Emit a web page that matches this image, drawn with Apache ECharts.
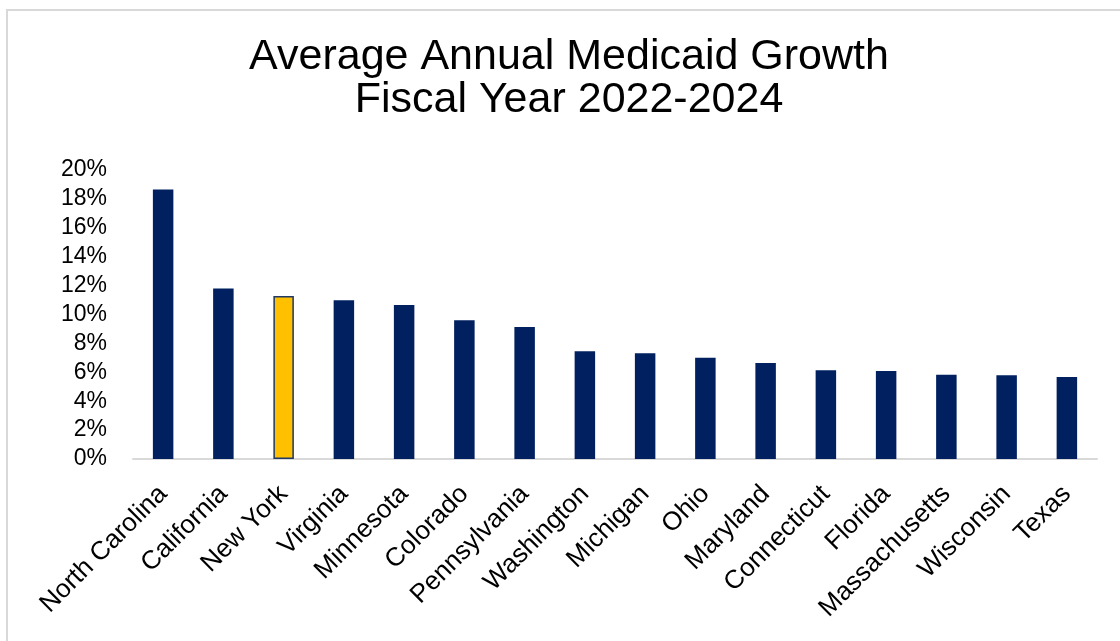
<!DOCTYPE html>
<html>
<head>
<meta charset="utf-8">
<script src="https://cdn.jsdelivr.net/npm/echarts@6/dist/echarts.min.js"></script>
<style>
html,body{margin:0;padding:0;background:#fff;}
#chart{width:1120px;height:641px;}
</style>
</head>
<body>
<div id="chart"></div>
<script>
const titleLines = ['Average Annual Medicaid Growth', 'Fiscal Year 2022-2024'];
const states = ['North Carolina','California','New York','Virginia','Minnesota','Colorado','Pennsylvania','Washington','Michigan','Ohio','Maryland','Connecticut','Florida','Massachusetts','Wisconsin','Texas'];
const growth = [18.65, 11.8, 11.28, 10.98, 10.66, 9.6, 9.13, 7.45, 7.31, 7.01, 6.64, 6.14, 6.09, 5.83, 5.79, 5.67];
const highlight = 'New York';
const yTicks = {min: 0, max: 20, interval: 2};

const chart = echarts.init(document.getElementById('chart'), null, {renderer: 'canvas'});
const font = '"Liberation Sans", Arial, sans-serif';
chart.setOption({
  animation: false,
  backgroundColor: '#ffffff',
  graphic: [{
    type: 'rect',
    shape: {x: 7, y: 10, width: 1300, height: 800},
    style: {fill: 'none', stroke: '#d9d9d9', lineWidth: 2},
    silent: true
  }],
  title: {
    text: titleLines.join('\n'),
    left: 564,
    textAlign: 'center',
    top: 31,
    textStyle: {fontFamily: font, fontSize: 43, fontWeight: 'normal', color: '#000', lineHeight: 43}
  },
  grid: {left: 133, right: 23, top: 170, bottom: 182, containLabel: false},
  xAxis: {
    type: 'category',
    data: states,
    axisLine: {show: true, lineStyle: {color: '#d9d9d9', width: 2}},
    axisTick: {show: false},
    axisLabel: {interval: 0, rotate: 45, margin: 31, fontFamily: font, fontSize: 26, color: '#000'}
  },
  yAxis: {
    type: 'value',
    min: yTicks.min, max: yTicks.max, interval: yTicks.interval,
    axisLine: {show: false},
    axisTick: {show: false},
    splitLine: {show: false},
    axisLabel: {formatter: '{value}%', margin: 26, fontFamily: font, fontSize: 23, color: '#000'}
  },
  series: [{
    type: 'bar',
    barWidth: '34%',
    data: states.map((s, i) => ({
      value: growth[i],
      itemStyle: s === highlight
        ? {color: '#FFC000', borderColor: '#1f3864', borderWidth: 1.5}
        : {color: '#002060'}
    }))
  }]
});
</script>
</body>
</html>
